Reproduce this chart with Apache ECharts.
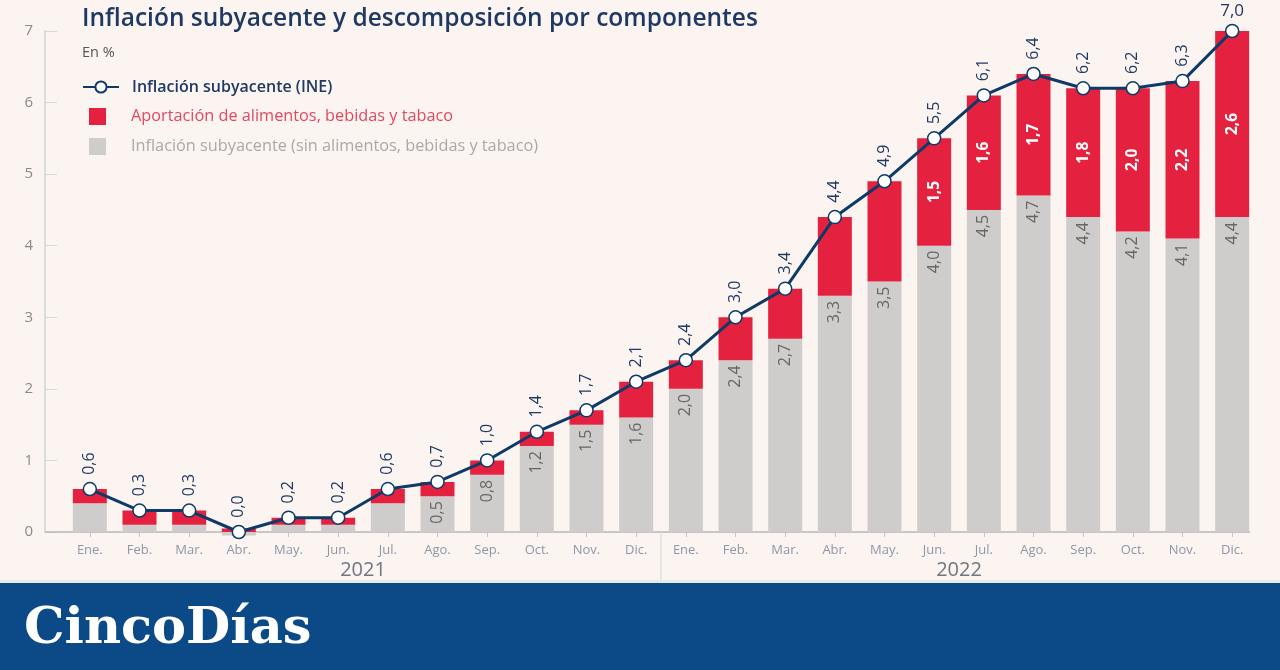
<!DOCTYPE html>
<html>
<head>
<meta charset="utf-8">
<script src="https://cdn.jsdelivr.net/npm/echarts@6/dist/echarts.min.js"></script>
<style>
html,body{margin:0;padding:0;background:#fcf4f0;}
#chart{width:1280px;height:670px;}
</style>
</head>
<body>
<div id="chart"></div>
<script>
const months = ['Ene.','Feb.','Mar.','Abr.','May.','Jun.','Jul.','Ago.','Sep.','Oct.','Nov.','Dic.',
                'Ene.','Feb.','Mar.','Abr.','May.','Jun.','Jul.','Ago.','Sep.','Oct.','Nov.','Dic.'];
const years = ['2021','2022'];
const yTicks = [0,1,2,3,4,5,6,7];
const coreINE = [0.6,0.3,0.3,0.0,0.2,0.2,0.6,0.7,1.0,1.4,1.7,2.1,2.4,3.0,3.4,4.4,4.9,5.5,6.1,6.4,6.2,6.2,6.3,7.0];
const coreExFood = [0.4,0.1,0.1,-0.05,0.1,0.1,0.4,0.5,0.8,1.2,1.5,1.6,2.0,2.4,2.7,3.3,3.5,4.0,4.5,4.7,4.4,4.2,4.1,4.4];
const foodContrib = [0.2,0.2,0.2,0.05,0.1,0.1,0.2,0.2,0.2,0.2,0.2,0.5,0.4,0.6,0.7,1.1,1.4,1.5,1.6,1.7,1.8,2.0,2.2,2.6];

const NAME_LINE = 'Inflación subyacente (INE)';
const NAME_RED = 'Aportación de alimentos, bebidas y tabaco';
const NAME_GRAY = 'Inflación subyacente (sin alimentos, bebidas y tabaco)';

const fmt = v => Number(v).toFixed(1).replace('.', ',');
const FONT = 'Open Sans';

const chart = echarts.init(document.getElementById('chart'));
const lineData = coreINE.map((v, i) => i === coreINE.length - 1
  ? {value: v, label: {rotate: 0, align: 'center', verticalAlign: 'bottom', distance: 4, fontSize: 17}}
  : v);

chart.setOption({
  backgroundColor: '#fcf4f0',
  animation: false,
  textStyle: {fontFamily: FONT},
  title: {
    text: 'Inflación subyacente y descomposición por componentes',
    subtext: 'En %',
    left: 77, top: 2, itemGap: 13,
    textStyle: {fontFamily: FONT, fontSize: 24.5, fontWeight: 600, color: '#1e3a64'},
    subtextStyle: {fontFamily: FONT, fontSize: 14.5, color: '#555'}
  },
  legend: [{
    data: [NAME_LINE],
    left: 77, top: 74, orient: 'vertical',
    itemWidth: 36, itemHeight: 14,
    textStyle: {fontFamily: FONT, fontSize: 16, color: '#1e3a64', fontWeight: 600, padding: [0,0,0,8]}
  }, {
    data: [
      {name: NAME_RED, textStyle: {color: '#e0485f'}},
      {name: NAME_GRAY, textStyle: {color: '#a9a9a9'}}
    ],
    left: 84, top: 103, orient: 'vertical',
    itemWidth: 17, itemHeight: 17, itemGap: 13,
    icon: 'rect',
    textStyle: {fontFamily: FONT, fontSize: 16.3, padding: [0,0,0,20]}
  }],
  grid: {left: 65, right: 23, top: 31, bottom: 138, containLabel: false},
  xAxis: [{
    type: 'category', data: months, position: 'bottom',
    axisLine: {show: false},
    axisTick: {show: true, alignWithLabel: true, length: 5, lineStyle: {color: '#c8c8c8'}},
    axisLabel: {color: '#8f97a6', fontSize: 13, margin: 12, fontFamily: FONT}
  }, {
    type: 'category', data: years, position: 'bottom',
    axisLine: {show: false}, axisTick: {show: false},
    axisLabel: {color: '#6f7680', fontSize: 20, margin: 28, fontFamily: FONT}
  }],
  yAxis: {
    type: 'value', min: 0, max: 7, interval: 1, offset: 20,
    axisLine: {show: true, lineStyle: {color: '#dcdcdc', width: 2}},
    axisTick: {show: true, inside: true, length: 12, lineStyle: {color: '#d8d8d8'}},
    splitLine: {show: false},
    axisLabel: {color: '#8a8a8a', fontSize: 15, margin: 12, fontFamily: FONT}
  },
  series: [{
    name: NAME_GRAY, type: 'bar', stack: 'a', data: coreExFood, barWidth: 34, clip: false,
    itemStyle: {color: '#cfcdcb'},
    label: {
      show: true, position: 'insideTop', rotate: 90, align: 'right', verticalAlign: 'middle',
      distance: 5, color: '#666', fontSize: 16, fontFamily: FONT,
      formatter: p => p.dataIndex >= 7 ? fmt(p.value) : ''
    }
  }, {
    name: NAME_RED, type: 'bar', stack: 'a', data: foodContrib, barWidth: 34,
    itemStyle: {color: '#e4213f'},
    label: {
      show: true, position: 'inside', rotate: 90, align: 'center', verticalAlign: 'middle',
      color: '#fff', fontSize: 15.5, fontWeight: 'bold', fontFamily: FONT,
      formatter: p => p.dataIndex >= 17 ? fmt(p.value) : ''
    }
  }, {
    name: NAME_LINE, type: 'line', data: lineData,
    symbol: 'circle', symbolSize: 13,
    lineStyle: {color: '#0d3a66', width: 3},
    itemStyle: {color: '#ffffff', borderColor: '#0d3a66', borderWidth: 1.5},
    label: {
      show: true, position: 'top', rotate: 90, align: 'left', verticalAlign: 'middle',
      distance: 7, color: '#1e3a64', fontSize: 16, fontFamily: FONT,
      formatter: p => fmt(p.value)
    },
    z: 5
  }]
});

// axis baseline, year separator and masthead band
const y0 = chart.convertToPixel({yAxisIndex: 0}, 0);
const xA = chart.convertToPixel({xAxisIndex: 0}, 11);
const xB = chart.convertToPixel({xAxisIndex: 0}, 12);
const xSep = (xA + xB) / 2;
chart.setOption({
  graphic: [
    {type: 'line', shape: {x1: 45, y1: y0, x2: 1250, y2: y0}, style: {stroke: '#b9b9b9', lineWidth: 1.5}, z: 1},
    {type: 'line', shape: {x1: xSep, y1: y0, x2: xSep, y2: 580}, style: {stroke: '#d6d6d6', lineWidth: 1}, z: 1},
    {type: 'rect', shape: {x: 0, y: 580, width: 1280, height: 3}, style: {fill: '#e6e9ee'}},
    {type: 'rect', shape: {x: 0, y: 583, width: 1280, height: 87}, style: {fill: '#0b4a87'}},
    {type: 'text', left: 24, top: 604, style: {text: 'CincoDías', fill: '#ffffff', font: 'bold 51px "DejaVu Serif"'}}
  ]
});
</script>
</body>
</html>
